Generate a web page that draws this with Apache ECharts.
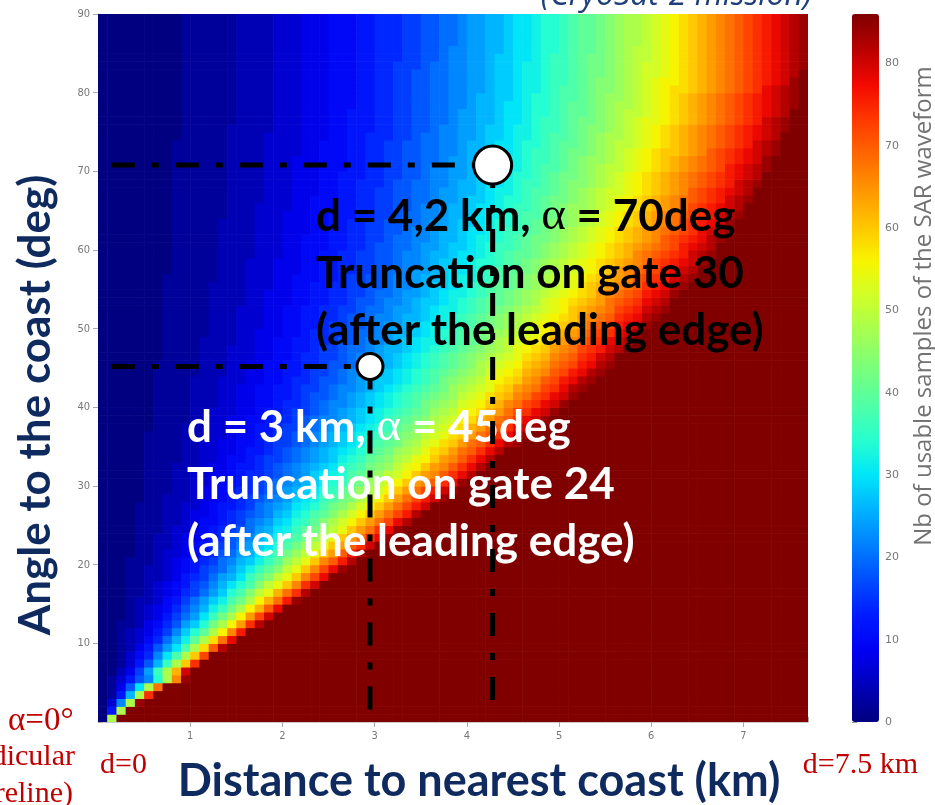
<!DOCTYPE html>
<html><head><meta charset="utf-8">
<script src="https://cdn.jsdelivr.net/npm/echarts@6/dist/echarts.min.js"></script>
<style>html,body{margin:0;padding:0;background:#fff}#c{width:935px;height:805px}</style>
</head><body><div id="c"></div>
<script>
// ---- data ----
const distanceKm = [0,0.1,0.2,0.3,0.4,0.5,0.6,0.7,0.8,0.9,1,1.1,1.2,1.3,1.4,1.5,1.6,1.7,1.8,1.9,2,2.1,2.2,2.3,2.4,2.5,2.6,2.7,2.8,2.9,3,3.1,3.2,3.3,3.4,3.5,3.6,3.7,3.8,3.9,4,4.1,4.2,4.3,4.4,4.5,4.6,4.7,4.8,4.9,5,5.1,5.2,5.3,5.4,5.5,5.6,5.7,5.8,5.9,6,6.1,6.2,6.3,6.4,6.5,6.6,6.7,6.8,6.9,7,7.1,7.2,7.3,7.4,7.5,7.6];
const angleDeg = [1,2,3,4,5,6,7,8,9,10,11,12,13,14,15,16,17,18,19,20,21,22,23,24,25,26,27,28,29,30,31,32,33,34,35,36,37,38,39,40,41,42,43,44,45,46,47,48,49,50,51,52,53,54,55,56,57,58,59,60,61,62,63,64,65,66,67,68,69,70,71,72,73,74,75,76,77,78,79,80,81,82,83,84,85,86,87,88,89,90];
const xTickLabels = [1,2,3,4,5,6,7];
const yTickLabels = [10,20,30,40,50,60,70,80,90];
const colorbarTicks = [0,10,20,30,40,50,60,70,80];
const maxSamples = 86;
// one character per cell, level index in levelCodes, each level = 2 samples;
// cells after the end of a row string are saturated ('H' = 86 samples)
const levelCodes = '0123456789abcdefghijklmnopqrstuvwxyzABCDEFGH';
const samplesPerLevel = 2;
const usableSamplesRows = [
"0o",
"06o",
"03boG",
"016doB",
"0149foy",
"01369bhoxG",
"00248ciovE",
"001369diouB",
"001357bfjouA",
"0012469cfjotzF",
"0012357adgkotyD",
"00123468behkosxC",
"001124579cehloswBF",
"000123468acfiloswAE",
"0001234579bdgilosvzD",
"0001223568acegjlosvyCG",
"00011234578acehjmprvyBF",
"000112345689bdfhjmpruxBE",
"000112234678acdfikmpruxAD",
"0001122345689acegikmpruxADG",
"0001112345678abdegiknpruxzCF",
"00001123345679acdfhjlnpruwzCF",
"000011223456789bcefhjlnpruwzBE",
"000011223445679abdegijlnpruwyBDG",
"0000111233456789acdfgiklnpruwyBDG",
"0000111223455678abcefhikmoqsuwyADF",
"00001112234456789abdeghjkmoqsuwyACF",
"00001112233456678abcdfghjlmoqsuwyACE",
"000001122234456789abcefgijlmoqsuwyACEG",
"0000011122344567789acdefhiklnoqsuwyACEG",
"0000011122334556789abcdeghiklnpqsuwxzBDG",
"00000111223344567789abcefghjkmnpqsuwxzBDF",
"00000111222344566789abcdefhijlmnprsuwxzBDF",
"000001111223345567889abcdeghiklmoprsuwxzBDF",
"000001111223344566789abcdefghjklnoprtuwyzBDF",
"0000011112233445567889abcdefgijklnoqrtuwyzBDFG",
"0000011112223345566789abcdefghijlmnpqrtuwyzBDFG",
"00000011122233445667889abcdefghiklmnpqstvwyzBDEG",
"00000011112233445567789abbcdefgijklmopqstvwyzBDEG",
"000000111122333445667889abcdefghijklnoprstvwyABDEG",
"000000111122233445567789abbcdefghijlmnoqrsuvxyABDEG",
"0000001111222334455667899abcdefghijklmnpqrtuvxyABDEG",
"0000001111222334455667889abbcdefghijklnopqrtuwxyABDFG",
"00000011112223334455677899abcdeefghijlmnoprstuwxzACDFG",
"00000011111222334455667889abbcdefghijklmnoqrstvwxzACDFG",
"000000111112223344556677899abcddefghijklmopqrsuvwyzACDFG",
"000000011112223334455677889abbcdefghijklmnopqrtuvxyzBCEF",
"000000011112223334455667889aabcddefghijklmnoprstuwxyABCEF",
"0000000111122223344556677899abbcdefgghijklmopqrstvwxyABDEF",
"0000000111112223344455677889aabcddefghijklmnopqrsuvwxzABDEG",
"00000001111122233344556678899abccdefgghijklmnoprstuvwyzACDEG",
"00000001111122233344556677899abbcddefghijklmnopqrstuwxyzBCDFG",
"00000001111122233344556677889aabccdefgghijklmnopqrsuvwxyABCEFG",
"000000011111222233444556677899abbcdeefghijkklmnoqrstuvwyzABDEF",
"000000011111222233444556677889aabccdefgghijklmnopqrstuwxyzACDEG",
"0000000111112222333445566778899abbcdeefghijkklmnopqrtuvwxyzBCDFG",
"0000000111111222333445556678899abbcddefgghijklmnopqrstuvwxzABCEFG",
"0000000011111222333444556677889aabccdeffghijkklmnopqrstuwxyzACDEF",
"00000000111112223334445566778899abbcdeefghhijklmnopqrstuvwxyABCDEG",
"00000000111112222333445566778899abbcddeffghijkklmnopqrstuvxyzABCEFG",
"00000000111112222333445556677899aabccdeefghiijklmnopqrstuvwxyzACDEF",
"00000000111112222333445556677889aabbcddefgghijkllmnopqrstuvwxzABCDFG",
"000000001111122223334445566778899abbcddeffghiijklmnopqrstuvwxyzABDEFG",
"000000001111122223334445566778899aabccdeefghhijklmmnopqrstuvwxyABCDEG",
"000000001111112223334445566677889aabbcddefgghijjklmnopqrstuvwxyzABCEFG",
"0000000011111122233334455566778899abbcddeffghiijklmnnopqrstuvwxyABCDEF",
"0000000011111122223334455566778899aabccdeefghhijkllmnopqrstuvwxyzABCEFG",
"0000000011111122223334445566778899aabccddefgghijjklmnopqqrstuvwxzABCDEF",
"0000000011111122223334445566777899aabbcddeffghiijklmmnopqrstuvwxyzABCEFG",
"00000000111111222233344455666778899abbccdeefghhijkllmnopqrstuvwxyzABCDEF",
"00000000111111222233344455566778899abbccdeefgghijjklmnoppqrstuvwxyzACDEFG",
"00000000111111222233344455566778899aabccddefgghiijklmnnopqrstuvwxyzABCDEG",
"00000000111111222233334455566778899aabbcddeffghiijkllmnopqrstuuvwxzABCDEFG",
"00000000111111222233334455566778899aabbcddeffghhijkklmnoppqrstuvwxyzABCEFG",
"00000000011111222233334445566777889aabbccdeefgghijjklmnoopqrstuvwxyzABCDEF",
"000000000111112222233344455666778899abbccdeefgghiijklmmnopqrstuvwxyzABCDEFG",
"000000000111111222233344455666778899aabccddeffghiijkllmnopqrrstuvwxyzABCEFG",
"000000000111111222233344455666778899aabccddeffghhijkklmnoppqrstuvwxyzABCDEF",
"000000000111111222233344455566778899aabbcddeffghhijkklmnoopqrstuvwxyzABCDEFG",
"000000000111111222233344455566778899aabbcddeefghhijjklmnnopqrstuvwxyzABCDEFG",
"000000000111111222233344455566778899aabbccdeefgghijjklmmnopqrsttuvwxyzABDEFG",
"000000000111111222233344455566778899aabbccdeefgghiijklmmnopqrsstuvwxyzABCDEG",
"000000000111111222233344455566778899aabbccdeefgghiijkllmnopqqrstuvwxyzABCDEF",
"000000000111111222233344455566778889aabbccdeefgghiijkllmnopqqrstuvwxyzABCDEFG",
"0000000001111112222333444555667778899abbccdeeffghiijkllmnoppqrstuvwxyzABCDEFG",
"0000000001111112222333444555667778899abbccddeffghhijkklmnoppqrstuvwxyzABCDEFG",
"0000000001111112222333444555667778899aabccddeffghhijkklmnoopqrstuvwxyzABCDEFG",
"0000000001111112222333444555667778899aabccddeffghhijkklmnoopqrstuvwxyzABCDEFG",
"0000000001111112222333444555667778899aabccddeffghhijkklmnoopqrstuvwxyzABCDEFG",
"0000000001111112222333444555667778899aabccddeffghhijkklmnoopqrstuvwxyzABCDEFG"
];
// annotated cases (d in km, alpha in deg)
const caseDistanceKm = [2.95, 4.28];
const caseAngleDeg = [45.2, 70.8];
const guideStartKm = 0.15;
const guideEndDeg = 2;

// ---- build ----
const cellWidthKm = 0.1, cellHeightDeg = 1;
const cells = [];
usableSamplesRows.forEach((row, r) => {
  for (let j = 0; j < distanceKm.length; j++) {
    const ch = j < row.length ? row[j] : 'H';
    cells.push([distanceKm[j], angleDeg[r], levelCodes.indexOf(ch) * samplesPerLevel]);
  }
});

// 'jet' colour map stops (evenly spaced)
const jet = ['#000080','#0000b9','#0000f3','#001aff','#004cff','#0080ff','#00b3ff','#00e6f7','#29ffce','#52ffa4',
             '#7bff7b','#a4ff52','#ceff29','#f7f500','#ffc600','#ff9700','#ff6800','#ff3900','#f30900','#b90000','#800000'];
const tickFont = '"Liberation Sans Narrow","DejaVu Sans Condensed",sans-serif';
const navy = '#0f2a5e';
const dash = [23,17,7,17];

const chart = echarts.init(document.getElementById('c'));
chart.setOption({
  animation: false,
  backgroundColor: '#fff',
  grid: [
    {left: 98, top: 14, width: 710, height: 708},
    {left: 852, top: 14, width: 27, height: 708}
  ],
  xAxis: [
    {type:'value', gridIndex:0, min:0, max:7.7, interval:1, position:'bottom',
     axisLine:{lineStyle:{color:'#c8c8c8', width:1}}, axisTick:{length:5, lineStyle:{color:'#aaa'}},
     axisLabel:{color:'#777', fontSize:11, fontFamily:tickFont, margin:9, showMinLabel:false, showMaxLabel:false,
       formatter: v => xTickLabels.includes(v) ? String(v) : ''},
     splitLine:{show:false}},
    {type:'value', gridIndex:0, min:0, max:7.7, interval:1, position:'top',
     axisLine:{lineStyle:{color:'#c8c8c8'}}, axisTick:{length:5, lineStyle:{color:'#aaa'}},
     axisLabel:{show:false}, splitLine:{show:false}},
    {type:'value', gridIndex:1, min:0, max:1, show:false}
  ],
  yAxis: [
    {type:'value', gridIndex:0, min:0, max:90, interval:10, position:'left',
     axisLine:{show:true, lineStyle:{color:'#c8c8c8'}}, axisTick:{show:true, length:5, lineStyle:{color:'#aaa'}},
     axisLabel:{color:'#777', fontSize:11, fontFamily:tickFont, margin:8, showMinLabel:false,
       formatter: v => yTickLabels.includes(v) ? String(v) : ''},
     splitLine:{show:false}},
    {type:'value', gridIndex:0, min:0, max:90, interval:10, position:'right',
     axisLine:{show:true, lineStyle:{color:'#c8c8c8'}}, axisTick:{show:true, length:5, lineStyle:{color:'#aaa'}},
     axisLabel:{show:false}, splitLine:{show:false}},
    {type:'value', gridIndex:1, min:0, max:maxSamples, interval:10, position:'right',
     axisLine:{show:false}, axisTick:{show:true, length:5, inside:false, lineStyle:{color:'#999'}},
     axisLabel:{color:'#777', fontSize:11, fontFamily:'"DejaVu Sans",sans-serif', margin:6, showMaxLabel:false,
       formatter: v => colorbarTicks.includes(v) ? String(v) : ''},
     splitLine:{show:false}}
  ],
  visualMap: {
    type:'continuous', min:0, max:maxSamples, dimension:2, seriesIndex:0,
    inRange:{color:jet}, calculable:false, hoverLink:false, realtime:false,
    left:852, top:14, itemWidth:27, itemHeight:708, padding:0, text:null, showLabel:false
  },
  series: [
    {type:'custom', xAxisIndex:0, yAxisIndex:0, data:cells, clip:true, z:1, progressive:0, silent:true,
     renderItem: (params, api) => {
       const d = api.value(0), a = api.value(1);
       const p0 = api.coord([d, a - cellHeightDeg]);
       const p1 = api.coord([d + cellWidthKm, a]);
       return {type:'rect', shape:{x:p0[0], y:p1[1], width:p1[0]-p0[0]+0.6, height:p0[1]-p1[1]+0.6},
               style:{fill: api.visual('color')}};
     }},
    {type:'line', xAxisIndex:0, yAxisIndex:0, z:5, symbol:'none', silent:true,
     data:[[guideStartKm, caseAngleDeg[1]],[caseDistanceKm[1], caseAngleDeg[1]]],
     lineStyle:{color:'#000', width:5, type:dash, cap:'butt'}},
    {type:'line', xAxisIndex:0, yAxisIndex:0, z:5, symbol:'none', silent:true,
     data:[[caseDistanceKm[1], caseAngleDeg[1]],[caseDistanceKm[1], guideEndDeg]],
     lineStyle:{color:'#000', width:5, type:dash, cap:'butt'}},
    {type:'line', xAxisIndex:0, yAxisIndex:0, z:5, symbol:'none', silent:true,
     data:[[guideStartKm, caseAngleDeg[0]],[caseDistanceKm[0], caseAngleDeg[0]]],
     lineStyle:{color:'#000', width:5, type:dash, cap:'butt'}},
    {type:'line', xAxisIndex:0, yAxisIndex:0, z:5, symbol:'none', silent:true,
     data:[[caseDistanceKm[0], caseAngleDeg[0]],[caseDistanceKm[0], 0]],
     lineStyle:{color:'#000', width:5, type:dash, cap:'butt'}},
    {type:'scatter', xAxisIndex:0, yAxisIndex:0, z:6, silent:true,
     data:[{value:[caseDistanceKm[0], caseAngleDeg[0]], symbolSize:26},
           {value:[caseDistanceKm[1], caseAngleDeg[1]], symbolSize:38}],
     itemStyle:{color:'#fff', borderColor:'#000', borderWidth:3, opacity:1}},
    {type:'scatter', xAxisIndex:2, yAxisIndex:2, data:[], silent:true}
  ],
  graphic: [
    {type:'text', z:3, left:316, top:188, style:{
      text:'d = 4,2 km, {a|α} = 70deg\nTruncation on gate 30\n(after the leading edge)',
      fill:'#000', font:'bold 44px Lato, sans-serif', lineHeight:57,
      rich:{a:{fontFamily:'"Liberation Serif",serif', fontWeight:'normal', fontSize:47, fill:'#000', lineHeight:57}}}},
    {type:'text', z:3, left:187, top:399, style:{
      text:'d = 3 km, {a|α} = 45deg\nTruncation on gate 24\n(after the leading edge)',
      fill:'#fff', font:'bold 44px Lato, sans-serif', lineHeight:57,
      rich:{a:{fontFamily:'"Liberation Serif",serif', fontWeight:'normal', fontSize:47, fill:'#fff', lineHeight:57}}}},
    {type:'text', z:3, x:479, y:781, style:{text:'Distance to nearest coast (km)', fill:navy,
      font:'bold 45px Lato, sans-serif', align:'center', verticalAlign:'middle'}},
    {type:'text', z:3, x:36, y:405, rotation:Math.PI/2, style:{text:'Angle to the coast (deg)', fill:navy,
      font:'bold 44px Lato, sans-serif', align:'center', verticalAlign:'middle'}},
    {type:'text', z:3, x:924, y:306, rotation:Math.PI/2, style:{text:'Nb of usable samples of the SAR waveform', fill:'#727272',
      font:'24px "Open Sans", sans-serif', align:'center', verticalAlign:'middle'}},
    {type:'text', z:3, x:812, y:12, style:{text:'(CryoSat-2 mission)', fill:'#1f3f7a',
      font:'italic 32px "Open Sans", sans-serif', align:'right', verticalAlign:'bottom'}},
    {type:'text', z:3, x:8, y:721, style:{text:'α=0°', fill:'#c00000',
      font:'33px "Liberation Serif", serif', align:'left', verticalAlign:'middle'}},
    {type:'text', z:3, x:75, y:757, style:{text:'perpendicular', fill:'#c00000',
      font:'30px "Liberation Serif", serif', align:'right', verticalAlign:'middle'}},
    {type:'text', z:3, x:73, y:794, style:{text:'shoreline)', fill:'#c00000',
      font:'30px "Liberation Serif", serif', align:'right', verticalAlign:'middle'}},
    {type:'text', z:3, x:100, y:765, style:{text:'d=0', fill:'#c00000',
      font:'30px "Liberation Serif", serif', align:'left', verticalAlign:'middle'}},
    {type:'text', z:3, x:918, y:765, style:{text:'d=7.5 km', fill:'#c00000',
      font:'30px "Liberation Serif", serif', align:'right', verticalAlign:'middle'}}
  ]
});
</script></body></html>
